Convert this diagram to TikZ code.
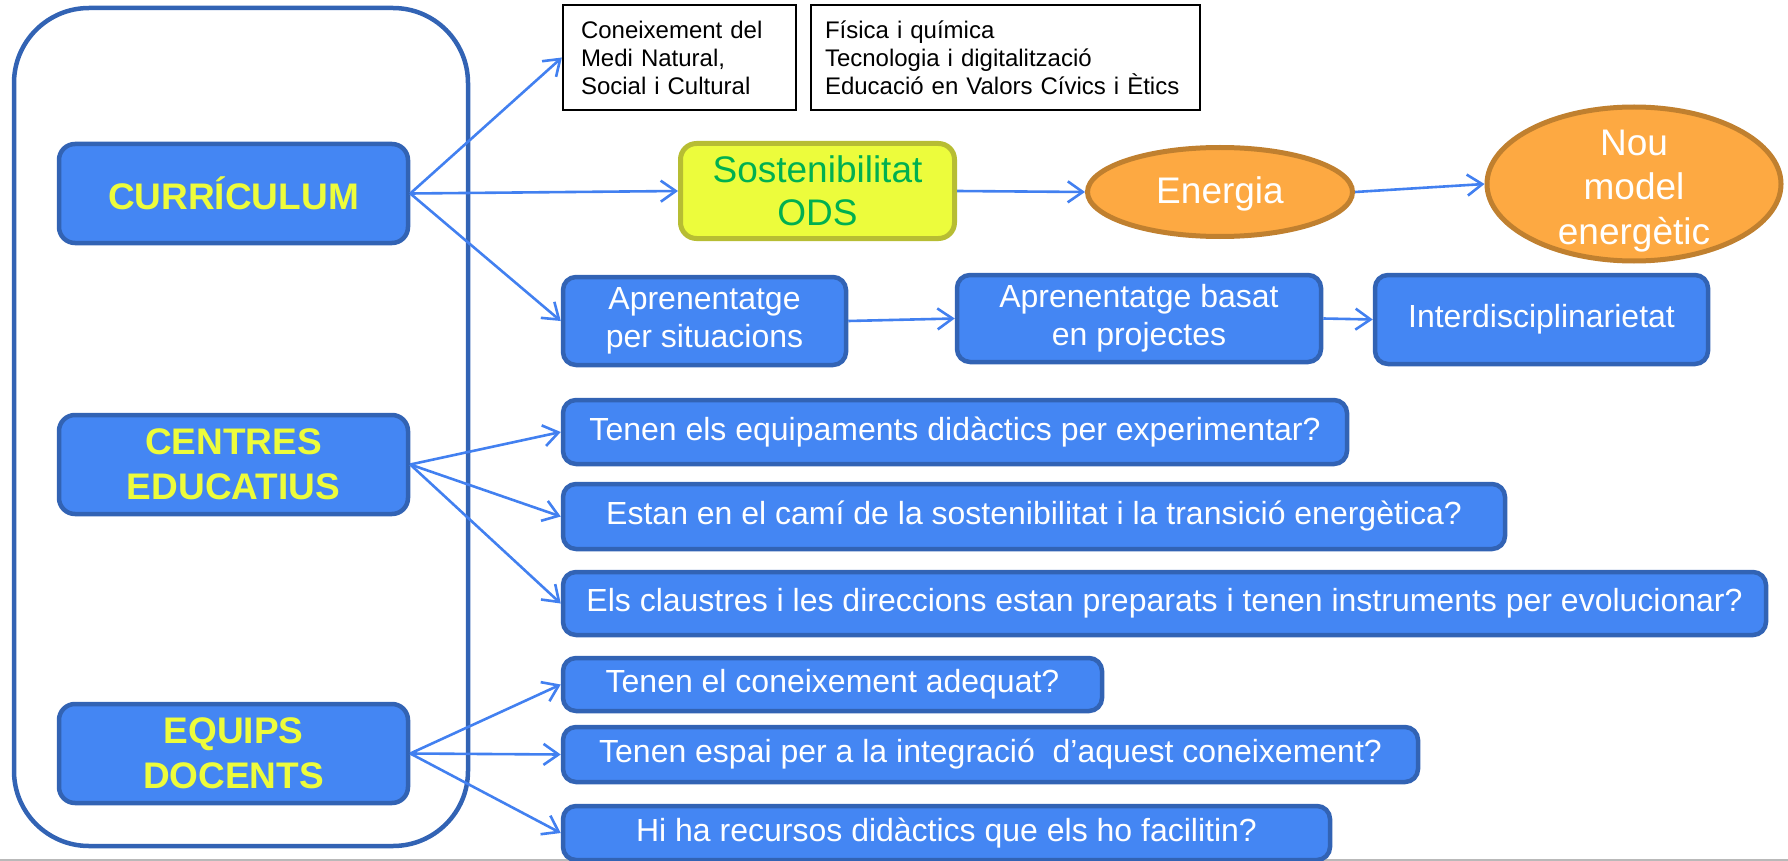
\documentclass[tikz,border=0pt]{standalone}
\usepackage{fontspec}
\setmainfont{Liberation Sans}
\usepackage{xcolor}
\usepackage{tikz}
\usetikzlibrary{arrows.meta, positioning, shapes.geometric}

\definecolor{boxblue}{RGB}{68,134,243}
\definecolor{boxedge}{RGB}{50,99,180}
\definecolor{capyellow}{RGB}{237,252,59}
\definecolor{linkblue}{RGB}{66,128,240}
\definecolor{odsfill}{RGB}{236,252,60}
\definecolor{odsedge}{RGB}{183,189,51}
\definecolor{odsgreen}{RGB}{0,176,80}
\definecolor{orfill}{RGB}{253,169,66}
\definecolor{oredge}{RGB}{192,128,47}

\begin{document}
\begin{tikzpicture}[x=1pt, y=-1pt,
				>={Straight Barb[length=15pt,width=21pt]},
				topic/.style={draw=boxedge, fill=boxblue, line width=4.5pt, rounded corners=16pt,
					minimum width=349pt, minimum height=99pt, align=center, text=capyellow,
					font=\fontsize{37}{44.5}\selectfont\bfseries},
				ask/.style={draw=boxedge, fill=boxblue, line width=4.5pt, rounded corners=13pt,
					align=center, text=white, font=\fontsize{32}{38}\selectfont},
				note/.style={draw=black, line width=2.2pt, align=left,
					minimum height=105pt, font=\fontsize{24}{28}\selectfont},
				goal/.style={draw=odsedge, fill=odsfill, line width=5pt, rounded corners=16pt,
					minimum width=274pt, minimum height=95pt, align=center, text=odsgreen,
					font=\fontsize{37}{43}\selectfont},
				bubble/.style={ellipse, draw=oredge, fill=orfill, line width=5pt, inner sep=0pt},
				bubbletxt/.style={align=center, text=white, font=\fontsize{37}{44.5}\selectfont},
				link/.style={->, draw=linkblue, line width=2.6pt}]

				\useasboundingbox (0,0) rectangle (1788,861);
				\draw[gray!55, line width=1.5pt] (0,860) -- (1788,860);
				\draw[boxedge, line width=4.5pt, rounded corners=75pt] (14,8) rectangle (468,846);

				\node[topic] (cur) at (233.5,193.5) {CURRÍCULUM};
				\node[topic] (cen) at (233.5,464.5) {CENTRES\\EDUCATIUS};
				\node[topic] (eqp) at (233.5,753.5) {EQUIPS\\DOCENTS};

				\node[note, inner xsep=18pt, text width=197pt] (med) at (679.5,57.5) {Coneixement del\\Medi Natural,\\Social i Cultural};
				\node[note, inner xsep=14pt, text width=361pt] (fis) at (1005.5,57.5) {Física i química\\Tecnologia i digitalització\\Educació en Valors Cívics i Ètics};

				\node[goal] (ods) at (817.5,191) {Sostenibilitat\\ODS};
				\node[bubble, minimum width=265pt, minimum height=89pt] (ene) at (1220,192) {};
				\node[bubbletxt] at ([yshift=-2pt]ene.center) {Energia};
				\node[bubble, minimum width=294pt, minimum height=154pt] (nou) at (1634,184) {};
				\node[bubbletxt] at ([yshift=-7pt]nou.center) {Nou\\model\\energètic};

				\node[ask, minimum width=283pt, minimum height=88pt] (sit) at (704.5,321) {Aprenentatge\\per situacions};
				\node[ask, minimum width=364pt, minimum height=87pt] (pro) at (1139,318.5) {Aprenentatge basat\\en projectes};
				\node[ask, minimum width=333pt, minimum height=89pt] (int) at (1541.5,319.5) {Interdisciplinarietat};

				\node[ask, minimum width=784pt, minimum height=64pt] (q1) at (955,432) {Tenen els equipaments didàctics per experimentar?};
				\node[ask, minimum width=942pt, minimum height=65pt] (q2) at (1034,516.5) {Estan en el camí de la sostenibilitat i la transició energètica?};
				\node[ask, minimum width=1203pt, minimum height=63pt] (q3) at (1164.5,603.5) {Els claustres i les direccions estan preparats i tenen instruments per evolucionar?};
				\node[ask, minimum width=539pt, minimum height=53pt] (q4) at (832.5,684.5) {Tenen el coneixement adequat?};
				\node[ask, minimum width=855pt, minimum height=55pt] (q5) at (990.5,754.5) {Tenen espai per a la integració~ d’aquest coneixement?};
				\node[ask, minimum width=767pt, minimum height=54pt] (q6) at (946.5,833) {Hi ha recursos didàctics que els ho facilitin?};

				\draw[link] (cur.east) -- (med.west);
				\draw[link] (cur.east) -- (ods.west);
				\draw[link] (cur.east) -- (sit.west);
				\draw[link] (ods.east) -- (ene.west);
				\draw[link] (ene.east) -- (nou.west);
				\draw[link] (sit.east) -- (pro.west);
				\draw[link] (pro.east) -- (int.west);

				\draw[link] (cen.east) -- (q1.west);
				\draw[link] (cen.east) -- (q2.west);
				\draw[link] (cen.east) -- (q3.west);
				\draw[link] (eqp.east) -- (q4.west);
				\draw[link] (eqp.east) -- (q5.west);
				\draw[link] (eqp.east) -- (q6.west);
			\end{tikzpicture}
\end{document}
